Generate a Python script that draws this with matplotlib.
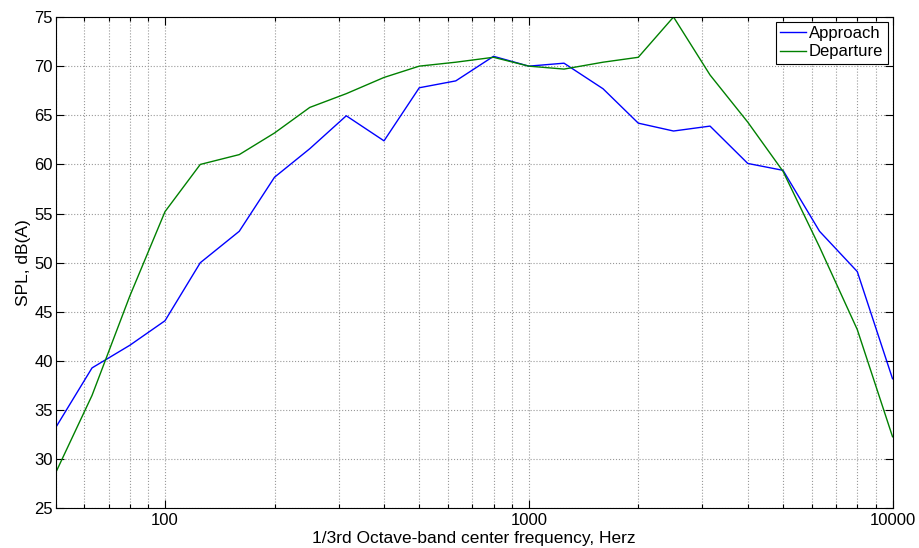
import matplotlib
matplotlib.use('Agg')
import matplotlib.pyplot as plt
from matplotlib.ticker import LogLocator, FuncFormatter, NullFormatter

plt.rcParams['font.family'] = ['Liberation Sans', 'DejaVu Sans']

freq = [50, 63, 80, 100, 125, 160, 200, 250, 315, 400, 500, 630,
        800, 1000, 1250, 1600, 2000, 2500, 3150, 4000, 5000, 6300, 8000, 10000]
approach = [33.2, 39.3, 41.6, 44.1, 50.0, 53.2, 58.7, 61.6, 64.95, 62.4, 67.8, 68.5,
            71.0, 70.0, 70.3, 67.7, 64.2, 63.4, 63.9, 60.1, 59.4, 53.2, 49.1, 38.2]
departure = [28.6, 36.5, 46.6, 55.2, 60.0, 61.0, 63.2, 65.8, 67.2, 68.85, 70.0, 70.4,
             70.9, 70.0, 69.7, 70.4, 70.9, 75.0, 69.1, 64.3, 59.3, 51.6, 43.2, 32.3]


def main():
    fig = plt.figure(figsize=(9.19, 5.48), dpi=100)
    ax = fig.add_axes([0.0604, 0.0721, 0.9108, 0.8969])

    ax.plot(freq, approach, color='#0000ff', lw=1.0, label='Approach')
    ax.plot(freq, departure, color='#008000', lw=1.0, label='Departure')

    ax.set_xscale('log')
    ax.set_xlim(50, 10000)
    ax.set_ylim(25, 75)
    ax.set_yticks(range(25, 80, 5))
    ax.xaxis.set_major_locator(LogLocator(base=10))
    ax.xaxis.set_minor_locator(LogLocator(base=10, subs=range(2, 10)))
    ax.xaxis.set_major_formatter(FuncFormatter(lambda v, p: '%d' % v))
    ax.xaxis.set_minor_formatter(NullFormatter())

    ax.grid(True, which='major', color='0.6', linestyle=':', lw=0.8)
    ax.grid(True, which='minor', axis='x', color='0.6', linestyle=':', lw=0.8)
    ax.tick_params(which='both', direction='in', top=True, right=True, labelsize=12)
    ax.tick_params(which='major', length=6, width=0.8)
    ax.tick_params(which='minor', length=3, width=0.8)
    ax.tick_params(axis='y', pad=2)
    ax.tick_params(axis='x', pad=3.5)
    for s in ax.spines.values():
        s.set_linewidth(0.8)

    ax.set_xlabel('1/3rd Octave-band center frequency, Herz', fontsize=12.5, labelpad=2)
    ax.set_ylabel('SPL, dB(A)', fontsize=12.5, labelpad=2)

    leg = ax.legend(loc='upper right', fontsize=12, fancybox=False, framealpha=1,
                    edgecolor='black', handlelength=1.6, handletextpad=0.15,
                    borderpad=0.25, labelspacing=0.2, borderaxespad=0.3)
    leg.get_frame().set_linewidth(0.8)

    fig.savefig('out.png', dpi=100)


if __name__ == '__main__':
    main()
